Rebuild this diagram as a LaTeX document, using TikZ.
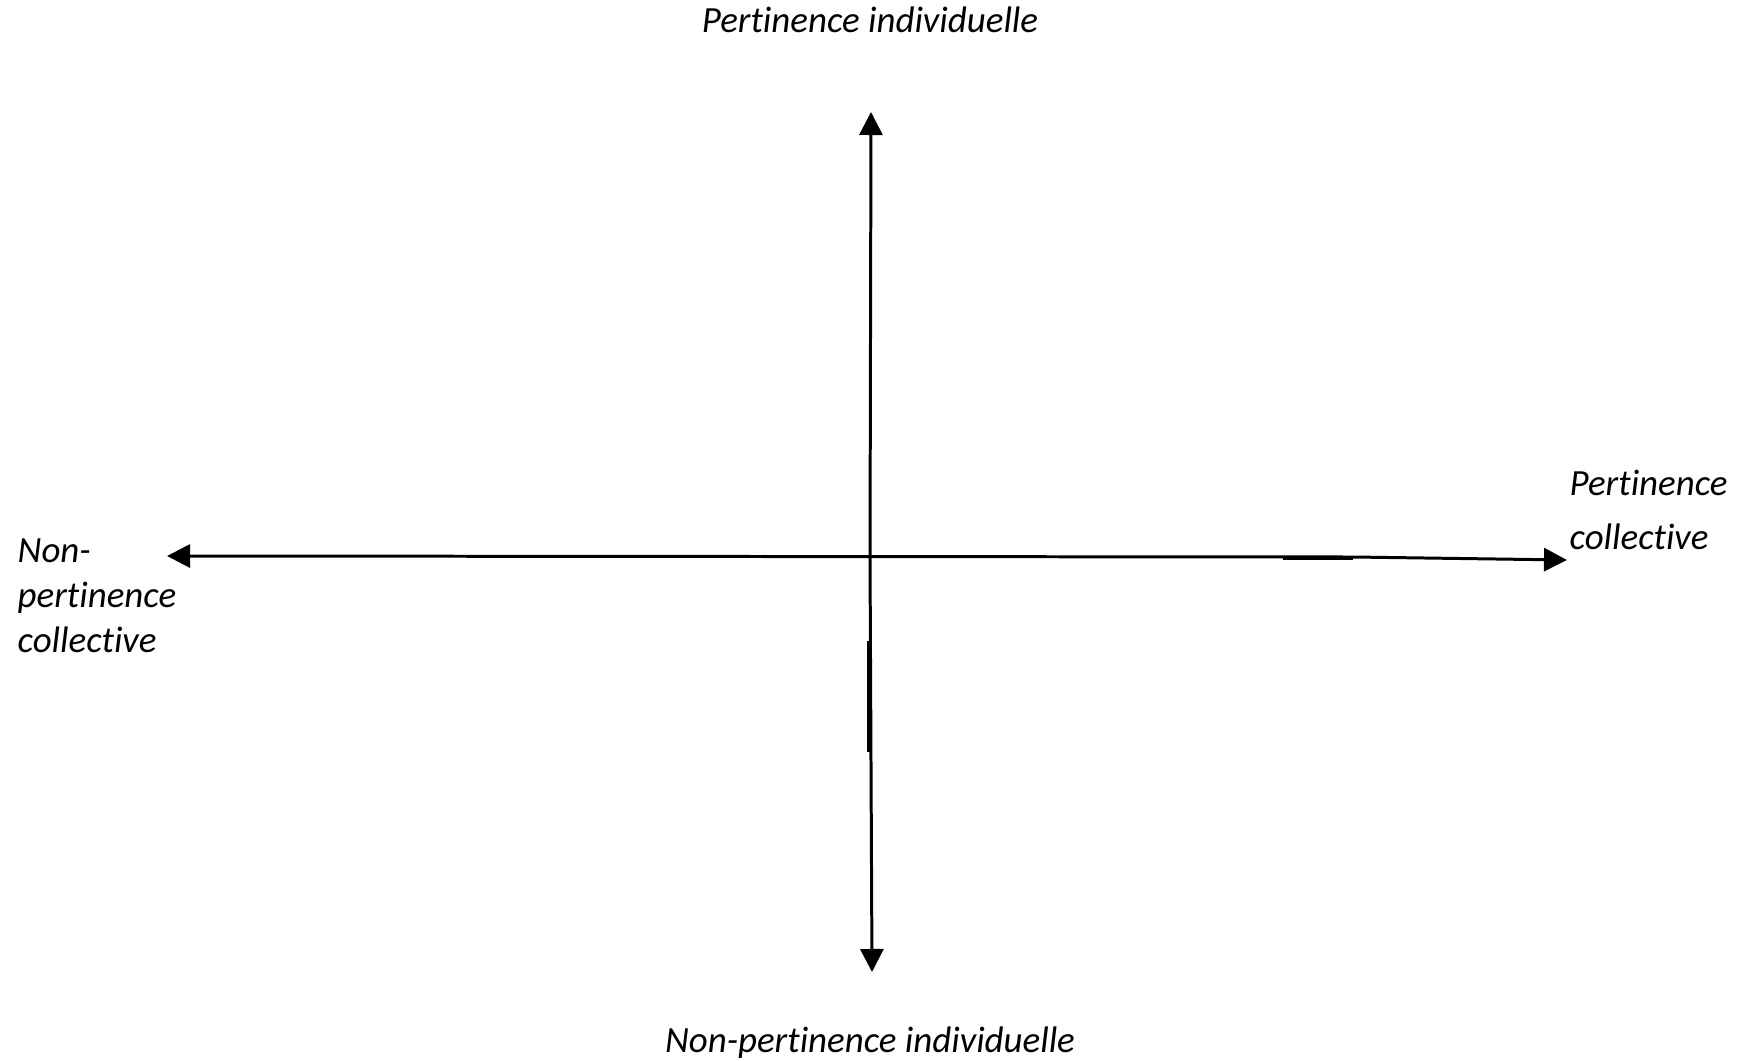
\documentclass[tikz,border=0pt]{standalone}
\usepackage{fontspec}
\setmainfont[Ligatures=NoCommon]{Carlito}
\usetikzlibrary{arrows.meta, positioning}

\begin{document}
\begin{tikzpicture}[
    x=0.01cm, y=-0.01cm,
    axis/.style={line width=0.85pt, {Triangle[length=2.3mm, width=2.3mm]}-{Triangle[length=2.3mm, width=2.3mm]}},
    patch/.style={line width=0.85pt},
    label/.style={inner sep=0pt, font=\fontsize{10.5}{12.8}\selectfont\itshape}
]
    \useasboundingbox (0,0) rectangle (1740,1061);

    % axis end points
    \coordinate (top) at (871,112);
    \coordinate (bottom) at (872,972);
    \coordinate (left) at (167,556);
    \coordinate (right) at (1567,560);

    \draw[axis] (top) -- (870,556) -- (bottom);
    \draw[axis] (left) -- (1353,557) -- (right);
    \draw[patch] (1283,559) -- (1353,559);
    \draw[patch] (868,641) -- (868,752);

    \node[label, anchor=base] (indiv) at (870,33) {Pertinence individuelle};
    \node[label, anchor=base] (nonindiv) at (870,1052) {Non-pertinence individuelle};
    \node[label, anchor=north west, align=left] (noncoll) at (17,538) {Non-\\pertinence\\collective};
    \node[label, anchor=north west, align=left,
          font=\fontsize{10.5}{15.6}\selectfont\itshape] (coll) at (1569,469) {Pertinence\\collective};
\end{tikzpicture}
\end{document}
